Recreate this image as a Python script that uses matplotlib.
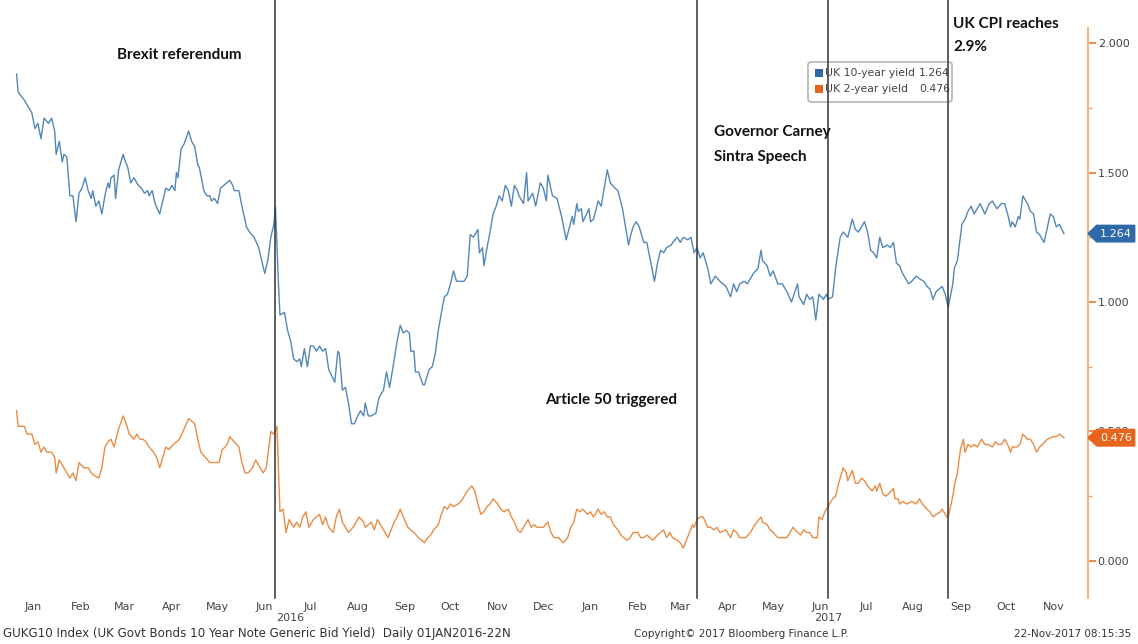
import matplotlib.pyplot as plt
from matplotlib.patches import Polygon, FancyBboxPatch, Rectangle
from matplotlib.ticker import MultipleLocator, FormatStrFormatter
import pandas as pd

# day offsets from the first observation, and yields in %
start = pd.Timestamp('2016-01-04')

days_10y = [0, 1, 5, 8, 10, 12, 14, 16, 18, 21, 23, 25, 26, 28, 30, 31, 33, 35, 37, 39,
            41, 43, 45, 47, 49, 50, 52, 54, 56, 58, 60, 61, 62, 64, 65, 67, 70, 71, 73, 75,
            77, 80, 82, 84, 86, 87, 89, 91, 94, 96, 98, 100, 102, 104, 105, 106, 108, 110, 113, 115,
            117, 119, 120, 123, 125, 127, 128, 130, 132, 134, 136, 140, 142, 143, 146, 148, 151, 153, 156, 159,
            161, 163, 165, 167, 169, 170, 172, 173, 176, 178, 180, 182, 184, 186, 187, 189, 191, 193, 195, 197,
            199, 201, 203, 205, 209, 211, 212, 214, 216, 218, 220, 222, 224, 226, 228, 229, 231, 233, 236, 238,
            241, 243, 245, 247, 250, 252, 254, 256, 258, 259, 261, 262, 264, 267, 268, 270, 271, 273, 275, 277,
            280, 281, 283, 284, 285, 287, 289, 290, 294, 296, 298, 300, 303, 304, 306, 307, 309, 311, 313, 315,
            317, 319, 321, 323, 325, 327, 329, 330, 333, 335, 336, 339, 341, 344, 346, 348, 349, 352, 355, 358,
            361, 365, 366, 368, 369, 371, 372, 376, 377, 379, 382, 384, 386, 388, 390, 393, 395, 398, 400, 402,
            403, 405, 407, 409, 412, 414, 416, 419, 421, 423, 425, 427, 430, 431, 434, 436, 438, 441, 443, 445,
            447, 449, 451, 454, 456, 459, 462, 466, 469, 471, 473, 475, 478, 480, 482, 484, 487, 489, 490, 493,
            495, 497, 500, 503, 506, 509, 513, 514, 517, 519, 521, 523, 525, 527, 530, 532, 533, 536, 538, 541,
            543, 546, 549, 551, 553, 557, 559, 561, 563, 565, 567, 569, 572, 574, 576, 578, 580, 582, 586, 588,
            591, 593, 596, 598, 600, 602, 604, 608, 610, 612, 615, 616, 618, 621, 623, 625, 627, 629, 633, 636,
            639, 641, 644, 647, 649, 651, 653, 654, 656, 658, 659, 661, 664, 666, 668, 670, 672, 675, 679, 681,
            683, 685, 688]
yld_10y = [1.88, 1.81, 1.78, 1.75, 1.73, 1.67, 1.69, 1.63, 1.71, 1.69, 1.71, 1.66, 1.57, 1.62, 1.54, 1.57, 1.56, 1.41, 1.41, 1.31,
           1.42, 1.44, 1.48, 1.43, 1.40, 1.43, 1.37, 1.39, 1.34, 1.41, 1.46, 1.44, 1.48, 1.49, 1.40, 1.51, 1.57, 1.55, 1.52, 1.46,
           1.48, 1.45, 1.44, 1.42, 1.43, 1.41, 1.43, 1.38, 1.34, 1.39, 1.44, 1.43, 1.45, 1.43, 1.50, 1.48, 1.59, 1.61, 1.66, 1.62,
           1.60, 1.53, 1.52, 1.43, 1.41, 1.41, 1.39, 1.40, 1.38, 1.44, 1.45, 1.47, 1.45, 1.43, 1.43, 1.37, 1.29, 1.27, 1.25, 1.21,
           1.16, 1.11, 1.16, 1.25, 1.30, 1.37, 1.07, 0.95, 0.96, 0.89, 0.85, 0.78, 0.77, 0.78, 0.75, 0.82, 0.75, 0.83, 0.83, 0.81,
           0.83, 0.81, 0.82, 0.74, 0.69, 0.81, 0.80, 0.66, 0.67, 0.61, 0.53, 0.53, 0.56, 0.58, 0.56, 0.61, 0.56, 0.56, 0.57, 0.63,
           0.66, 0.73, 0.67, 0.74, 0.85, 0.91, 0.88, 0.89, 0.88, 0.81, 0.81, 0.73, 0.73, 0.68, 0.68, 0.72, 0.74, 0.75, 0.80, 0.89,
           0.99, 1.02, 1.03, 1.05, 1.07, 1.12, 1.08, 1.08, 1.08, 1.10, 1.26, 1.25, 1.28, 1.19, 1.21, 1.14, 1.21, 1.27, 1.34, 1.37,
           1.41, 1.39, 1.45, 1.43, 1.37, 1.45, 1.43, 1.41, 1.38, 1.50, 1.39, 1.42, 1.37, 1.46, 1.44, 1.39, 1.49, 1.41, 1.40, 1.33,
           1.24, 1.33, 1.30, 1.38, 1.35, 1.36, 1.31, 1.36, 1.31, 1.32, 1.39, 1.37, 1.44, 1.51, 1.46, 1.44, 1.43, 1.36, 1.29, 1.22,
           1.25, 1.29, 1.31, 1.29, 1.23, 1.23, 1.17, 1.08, 1.15, 1.20, 1.19, 1.21, 1.22, 1.23, 1.25, 1.23, 1.25, 1.24, 1.25, 1.19,
           1.21, 1.17, 1.19, 1.13, 1.07, 1.10, 1.08, 1.06, 1.02, 1.07, 1.04, 1.07, 1.08, 1.07, 1.09, 1.11, 1.13, 1.20, 1.16, 1.14,
           1.10, 1.12, 1.07, 1.07, 1.04, 1.00, 1.07, 1.02, 0.99, 1.03, 1.01, 1.02, 0.93, 1.03, 1.01, 1.03, 1.01, 1.02, 1.13, 1.25,
           1.27, 1.25, 1.32, 1.28, 1.27, 1.31, 1.27, 1.20, 1.19, 1.17, 1.25, 1.21, 1.22, 1.21, 1.23, 1.15, 1.14, 1.11, 1.07, 1.08,
           1.10, 1.09, 1.08, 1.06, 1.05, 1.01, 1.04, 1.06, 1.03, 0.98, 1.07, 1.13, 1.16, 1.30, 1.32, 1.35, 1.37, 1.34, 1.38, 1.34,
           1.38, 1.39, 1.36, 1.38, 1.38, 1.34, 1.29, 1.31, 1.29, 1.33, 1.32, 1.41, 1.38, 1.35, 1.34, 1.27, 1.26, 1.23, 1.34, 1.33,
           1.29, 1.30, 1.264]

days_2y = [0, 1, 5, 7, 10, 12, 14, 16, 18, 20, 23, 25, 26, 28, 30, 31, 35, 37, 39, 41,
           44, 47, 49, 51, 54, 56, 58, 60, 62, 64, 67, 70, 72, 74, 77, 79, 81, 83, 85, 87,
           90, 92, 94, 96, 98, 100, 103, 105, 107, 110, 113, 115, 117, 119, 121, 124, 127, 129, 131, 133,
           135, 137, 139, 140, 143, 146, 148, 150, 152, 155, 157, 159, 162, 164, 167, 169, 171, 173, 175, 177,
           179, 182, 184, 186, 188, 190, 192, 195, 197, 199, 201, 203, 205, 208, 210, 212, 214, 216, 218, 221,
           223, 225, 228, 229, 233, 235, 237, 239, 241, 244, 246, 248, 250, 252, 254, 257, 259, 261, 264, 266,
           268, 270, 272, 274, 277, 279, 281, 283, 285, 287, 290, 292, 294, 296, 299, 301, 303, 305, 307, 309,
           311, 313, 316, 318, 320, 323, 325, 327, 329, 331, 333, 336, 338, 340, 342, 344, 346, 349, 351, 353,
           356, 359, 362, 364, 366, 368, 370, 372, 375, 377, 379, 382, 384, 386, 388, 390, 392, 395, 397, 399,
           401, 403, 405, 408, 410, 412, 414, 416, 418, 421, 423, 425, 427, 429, 431, 434, 436, 438, 440, 442,
           444, 445, 447, 449, 451, 454, 456, 458, 460, 462, 466, 469, 471, 473, 475, 479, 482, 485, 489, 490,
           493, 495, 497, 500, 502, 504, 506, 508, 510, 513, 515, 517, 519, 521, 523, 526, 527, 529, 531, 533,
           536, 538, 540, 543, 545, 546, 549, 551, 553, 555, 557, 559, 562, 564, 565, 567, 569, 571, 573, 576,
           577, 579, 580, 582, 585, 588, 591, 593, 595, 598, 600, 602, 604, 607, 608, 611, 612, 615, 616, 618,
           620, 622, 623, 625, 627, 629, 631, 634, 636, 638, 641, 643, 645, 647, 649, 651, 653, 654, 657, 659,
           661, 664, 666, 668, 670, 672, 674, 677, 681, 683, 685, 688]
yld_2y = [0.58, 0.52, 0.52, 0.49, 0.49, 0.45, 0.46, 0.42, 0.44, 0.42, 0.42, 0.40, 0.34, 0.39, 0.37, 0.36, 0.32, 0.34, 0.31, 0.38,
          0.36, 0.36, 0.34, 0.33, 0.32, 0.36, 0.44, 0.46, 0.47, 0.44, 0.51, 0.56, 0.53, 0.49, 0.47, 0.49, 0.47, 0.47, 0.46, 0.44,
          0.42, 0.40, 0.36, 0.40, 0.44, 0.43, 0.45, 0.46, 0.47, 0.51, 0.55, 0.54, 0.53, 0.47, 0.42, 0.40, 0.38, 0.38, 0.38, 0.38,
          0.43, 0.44, 0.46, 0.48, 0.46, 0.44, 0.38, 0.34, 0.34, 0.36, 0.39, 0.37, 0.34, 0.36, 0.50, 0.49, 0.52, 0.19, 0.20, 0.11,
          0.16, 0.13, 0.15, 0.13, 0.17, 0.19, 0.13, 0.16, 0.17, 0.18, 0.14, 0.17, 0.13, 0.11, 0.17, 0.20, 0.15, 0.13, 0.11, 0.13,
          0.15, 0.17, 0.15, 0.13, 0.15, 0.12, 0.16, 0.14, 0.12, 0.09, 0.12, 0.15, 0.17, 0.20, 0.17, 0.13, 0.12, 0.11, 0.09, 0.08,
          0.07, 0.09, 0.10, 0.12, 0.14, 0.18, 0.21, 0.20, 0.22, 0.21, 0.22, 0.23, 0.25, 0.27, 0.29, 0.27, 0.22, 0.18, 0.19, 0.21,
          0.22, 0.24, 0.22, 0.20, 0.19, 0.20, 0.17, 0.15, 0.12, 0.11, 0.13, 0.16, 0.13, 0.14, 0.13, 0.13, 0.13, 0.15, 0.11, 0.09,
          0.09, 0.07, 0.09, 0.13, 0.15, 0.20, 0.19, 0.20, 0.18, 0.19, 0.17, 0.20, 0.18, 0.19, 0.17, 0.17, 0.14, 0.12, 0.10, 0.09,
          0.08, 0.09, 0.11, 0.11, 0.09, 0.09, 0.10, 0.09, 0.08, 0.10, 0.11, 0.12, 0.09, 0.11, 0.09, 0.08, 0.07, 0.05, 0.08, 0.11,
          0.14, 0.13, 0.16, 0.17, 0.17, 0.13, 0.13, 0.12, 0.13, 0.11, 0.12, 0.09, 0.12, 0.11, 0.09, 0.09, 0.11, 0.14, 0.17, 0.15,
          0.14, 0.12, 0.11, 0.09, 0.09, 0.09, 0.09, 0.11, 0.13, 0.11, 0.10, 0.12, 0.11, 0.11, 0.09, 0.09, 0.17, 0.16, 0.19, 0.21,
          0.24, 0.25, 0.30, 0.36, 0.34, 0.31, 0.35, 0.30, 0.30, 0.32, 0.31, 0.29, 0.27, 0.29, 0.27, 0.30, 0.26, 0.25, 0.26, 0.28,
          0.24, 0.24, 0.22, 0.23, 0.22, 0.23, 0.22, 0.24, 0.22, 0.20, 0.19, 0.17, 0.18, 0.19, 0.20, 0.17, 0.17, 0.25, 0.29, 0.34,
          0.43, 0.47, 0.42, 0.45, 0.44, 0.45, 0.44, 0.47, 0.45, 0.45, 0.44, 0.46, 0.45, 0.45, 0.47, 0.45, 0.42, 0.44, 0.44, 0.45,
          0.49, 0.47, 0.47, 0.45, 0.42, 0.44, 0.45, 0.47, 0.48, 0.48, 0.49, 0.476]

last_10y = 1.264
last_2y = 0.476

event_dates = ['2016-06-22', '2017-03-26', '2017-06-20', '2017-09-07']
year_labels = [('2016', '2016-07-02'), ('2017', '2017-06-20')]
month_names = ['Jan', 'Feb', 'Mar', 'Apr', 'May', 'Jun', 'Jul', 'Aug', 'Sep', 'Oct', 'Nov', 'Dec']

c_10y = '#5287b8'
c_2y = '#e98c45'
c_tag10 = '#2f6aa8'
c_tag2 = '#e8641c'
c_axis = '#e9b688'
W, H = 1138, 644

fig = plt.figure(figsize=(W / 100, H / 100), dpi=100)
ax = fig.add_axes([2 / W, 1 - 598 / H, 1086 / W, 570 / H])

x10 = start + pd.to_timedelta(days_10y, unit='D')
x2 = start + pd.to_timedelta(days_2y, unit='D')
ax.plot(x10, yld_10y, color=c_10y, lw=1.0, zorder=3)
ax.plot(x2, yld_2y, color=c_2y, lw=1.0, zorder=3)

ax.set_xlim(start - pd.Timedelta(days=9.6), start + pd.Timedelta(days=703.8))
ax.set_ylim(-0.143, 2.058)

# right-hand value axis
for s in ['left', 'top', 'bottom']:
    ax.spines[s].set_visible(False)
ax.spines['right'].set_color(c_axis)
ax.spines['right'].set_linewidth(1.5)
ax.yaxis.tick_right()
ax.yaxis.set_major_locator(MultipleLocator(0.5))
ax.yaxis.set_minor_locator(MultipleLocator(0.25))
ax.yaxis.set_major_formatter(FormatStrFormatter('%.3f'))
ax.tick_params(axis='y', which='major', length=6, width=1.3, color='#e8823a',
               labelcolor='#444444', labelsize=8, pad=1)
ax.tick_params(axis='y', which='minor', length=3, width=1.0, color='#e8a06a')

# month labels centred in each month
months = pd.date_range('2016-01-01', '2017-11-01', freq='MS')
ax.set_xticks(months + pd.Timedelta(days=14))
ax.set_xticklabels([month_names[m.month - 1] for m in months])
ax.tick_params(axis='x', length=0, labelsize=8, labelcolor='#444444', pad=3)
for label, d in year_labels:
    ax.text(pd.Timestamp(d), -0.035, label, transform=ax.get_xaxis_transform(),
            ha='center', va='center', fontsize=8, color='#444444')

# event markers
for d in event_dates:
    ax.axvline(pd.Timestamp(d), ymin=0, ymax=1.049, color='#333333', lw=1.1,
               clip_on=False, zorder=6)

# last-value tags on the axis
ytr = ax.get_yaxis_transform()
for val, col in [(last_10y, c_tag10), (last_2y, c_tag2)]:
    h = 0.032
    pts = [(1.0, val), (1.008, val + h), (1.043, val + h), (1.043, val - h), (1.008, val - h)]
    ax.add_patch(Polygon(pts, closed=True, transform=ytr, facecolor=col,
                         edgecolor=col, clip_on=False, zorder=8))
    ax.text(1.026, val, f'{val:.3f}', transform=ytr, ha='center', va='center',
            fontsize=8, color='white', zorder=9, clip_on=False)

# legend box
ft = fig.transFigure
ax.add_patch(FancyBboxPatch((808 / W, 1 - 102 / H), 144 / W, 40 / H,
                            boxstyle='round,pad=0,rounding_size=0.004', transform=ft,
                            facecolor='white', edgecolor='#a8a8a8', lw=1.0,
                            clip_on=False, zorder=5))
for i, (name, val, col) in enumerate([('UK 10-year yield', last_10y, c_tag10),
                                      ('UK 2-year yield', last_2y, c_tag2)]):
    yc = 73 + i * 16
    ax.add_patch(Rectangle((815 / W, 1 - (yc + 4) / H), 8 / W, 8 / H, transform=ft,
                           facecolor=col, edgecolor='none', clip_on=False, zorder=5))
    ax.text(825 / W, 1 - yc / H, name, transform=ft, ha='left', va='center',
            fontsize=7.8, color='#444444', zorder=5)
    ax.text(950 / W, 1 - yc / H, f'{val:.3f}', transform=ft, ha='right', va='center',
            fontsize=7.8, color='#444444', zorder=5)

# event annotations
note = dict(fontsize=11, fontweight='bold', family=['Lato', 'DejaVu Sans'],
            color='#111111', ha='left', va='center')
fig.text(117 / W, 1 - 55 / H, 'Brexit referendum', **note)
fig.text(545 / W, 1 - 400 / H, 'Article 50 triggered', **note)
fig.text(714 / W, 1 - 132 / H, 'Governor Carney', **note)
fig.text(714 / W, 1 - 157 / H, 'Sintra Speech', **note)
fig.text(953 / W, 1 - 24 / H, 'UK CPI reaches', **note)
fig.text(953 / W, 1 - 47 / H, '2.9%', **note)

# footer
foot = dict(color='#333333', va='center')
fig.text(3 / W, 1 - 634 / H,
         'GUKG10 Index (UK Govt Bonds 10 Year Note Generic Bid Yield)  Daily 01JAN2016-22N',
         ha='left', fontsize=8.6, **foot)
fig.text(634 / W, 1 - 634 / H, 'Copyright\u00a9 2017 Bloomberg Finance L.P.', ha='left',
         fontsize=7.5, **foot)
fig.text(1131 / W, 1 - 634 / H, '22-Nov-2017 08:15:35', ha='right', fontsize=7.5, **foot)

fig.savefig('out.png', dpi=100, facecolor='white')
